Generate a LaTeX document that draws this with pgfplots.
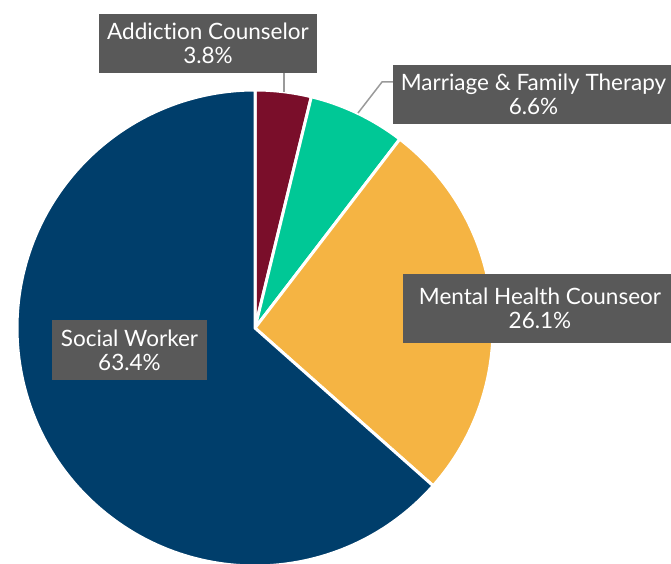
\documentclass[border=0pt]{standalone}
\usepackage{pgfplots}
\usepackage{pgfplotstable}
\usepackage{fontspec}
\setmainfont[Ligatures=NoCommon]{Lato}
\pgfplotsset{compat=1.18}

\definecolor{cAdd}{HTML}{7A0E2A}
\definecolor{cMar}{HTML}{00C896}
\definecolor{cMen}{HTML}{F5B443}
\definecolor{cSoc}{HTML}{003E6B}
\definecolor{boxgray}{HTML}{595959}
\definecolor{leader}{HTML}{9A9A9A}

% share of each occupation, in %
\pgfplotstableread{
value
3.8
6.6
26.1
63.4
}\piedata

\begin{document}
\begin{tikzpicture}
% slice angles, clockwise from the top
\pgfplotstablegetelem{0}{value}\of\piedata \let\vA\pgfplotsretval
\pgfplotstablegetelem{1}{value}\of\piedata \let\vB\pgfplotsretval
\pgfplotstablegetelem{2}{value}\of\piedata \let\vC\pgfplotsretval
\pgfplotstablegetelem{3}{value}\of\piedata \let\vD\pgfplotsretval
\pgfmathsetmacro\tot{\vA+\vB+\vC+\vD}
\pgfmathsetmacro\aA{90-360*\vA/\tot}
\pgfmathsetmacro\aB{\aA-360*\vB/\tot}
\pgfmathsetmacro\aC{\aB-360*\vC/\tot}
\def\aD{-270}
\tikzset{
  slice/.style={fill=#1, draw=white, line width=3bp, line join=round},
  lbl/.style={fill=boxgray, text=white, align=center, inner sep=0pt,
    font=\fontsize{22.6}{24}\selectfont},
}
\begin{axis}[
    width=671bp, height=564bp, scale only axis,
    xmin=0, xmax=671, ymin=0, ymax=564, y dir=reverse,
    hide axis, clip=true,
]
\fill[slice=cAdd] (axis cs:255,328) -- ++(90:238bp) arc[start angle=90, end angle=\aA, radius=238bp] -- cycle;
\fill[slice=cMar] (axis cs:255,328) -- ++(\aA:238bp) arc[start angle=\aA, end angle=\aB, radius=238bp] -- cycle;
\fill[slice=cMen] (axis cs:255,328) -- ++(\aB:238bp) arc[start angle=\aB, end angle=\aC, radius=238bp] -- cycle;
\fill[slice=cSoc] (axis cs:255,328) -- ++(\aC:238bp) arc[start angle=\aC, end angle=\aD, radius=238bp] -- cycle;

\draw[leader, line width=1.5bp] (axis cs:284,73) -- (axis cs:284,92);
\draw[leader, line width=1.5bp] (axis cs:393,82) -- (axis cs:382,82) -- (axis cs:358,113);

\node[lbl, minimum width=218bp, minimum height=59bp] at (axis cs:208,43.5) {Addiction Counselor\\3.8\%};
\node[lbl, minimum width=281bp, minimum height=59bp] at (axis cs:533.5,94.5) {Marriage \& Family Therapy\\6.6\%};
\node[lbl, minimum width=274bp, minimum height=69bp] at (axis cs:540,308.5) {Mental Health Counseor\\26.1\%};
\node[lbl, minimum width=155bp, minimum height=60bp] at (axis cs:129.5,350) {Social Worker\\63.4\%};
\end{axis}
\pgfresetboundingbox
\useasboundingbox (current axis.south west) rectangle (current axis.north east);
\end{tikzpicture}
\end{document}
